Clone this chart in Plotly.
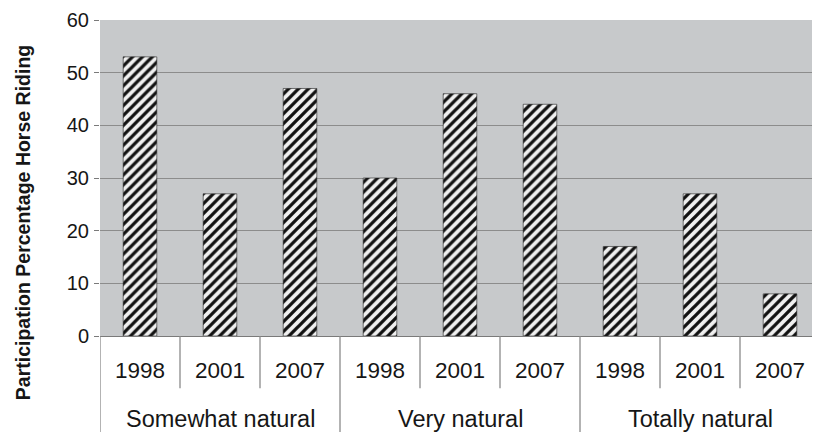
import plotly.graph_objects as go

# données
groups = ["Somewhat natural", "Very natural", "Totally natural"]
years = ["1998", "2001", "2007"]
values = [53, 27, 47, 30, 46, 44, 17, 27, 8]
y_ticks = [0, 10, 20, 30, 40, 50, 60]

FONT = "Liberation Sans, Arial, sans-serif"
INK = "#161616"
n = len(groups) * len(years)
xs = list(range(n))

fig = go.Figure(go.Bar(
    x=xs,
    y=values,
    width=0.42,
    marker=dict(
        color="white",
        line=dict(color="#222222", width=0.6),
        pattern=dict(shape="/", fgcolor="#111111", bgcolor="#f0f0f0",
                     size=7, solidity=0.47, fillmode="replace"),
    ),
    showlegend=False,
))

# lignes du tableau sous l'axe
shapes = []
for i in range(0, n):
    major = i % len(years) == 0
    shapes.append(dict(
        type="line", xref="x", yref="paper",
        x0=i - 0.5, x1=i - 0.5, y0=0, y1=-0.33 if major else -0.165,
        line=dict(color="#8a8a8a", width=1.3),
    ))

annotations = []
for i, x in enumerate(xs):
    annotations.append(dict(
        x=x, y=-0.108, xref="x", yref="paper", yanchor="middle",
        text=years[i % len(years)], showarrow=False,
        font=dict(size=22.5, color=INK, family=FONT),
    ))
for i, g in enumerate(groups):
    annotations.append(dict(
        x=i * len(years) + 1, y=-0.262, xref="x", yref="paper", yanchor="middle",
        text=g, showarrow=False, font=dict(size=23.5, color=INK, family=FONT),
    ))
# titre de l'axe y
annotations.append(dict(
    x=-0.107, y=0.36, xref="paper", yref="paper", textangle=-90,
    xanchor="center", yanchor="middle",
    text="<b>Participation Percentage Horse Riding</b>", showarrow=False,
    font=dict(size=19.5, color=INK, family=FONT),
))

# la page ajoute 8 px de marge autour de la figure
fig.update_layout(
    width=820, height=432,
    margin=dict(l=92, r=8, t=12, b=104),
    paper_bgcolor="white",
    plot_bgcolor="#c7c9cb",
    font=dict(family=FONT, color=INK),
    shapes=shapes,
    annotations=annotations,
)
fig.update_xaxes(
    range=[-0.5, n - 0.5],
    showticklabels=False,
    ticks="",
    showgrid=False,
    showline=True, linecolor="#7a7a7a", linewidth=1,
    automargin=False,
)
fig.update_yaxes(
    range=[0, 60],
    tickvals=y_ticks,
    tickfont=dict(size=20, color=INK),
    ticks="outside", ticklen=5, tickcolor="#7a7a7a",
    ticklabelstandoff=1,
    showgrid=True, gridcolor="#8c8c8c", gridwidth=1.2,
    zeroline=False,
    automargin=False,
)

fig.write_html("out.html")
